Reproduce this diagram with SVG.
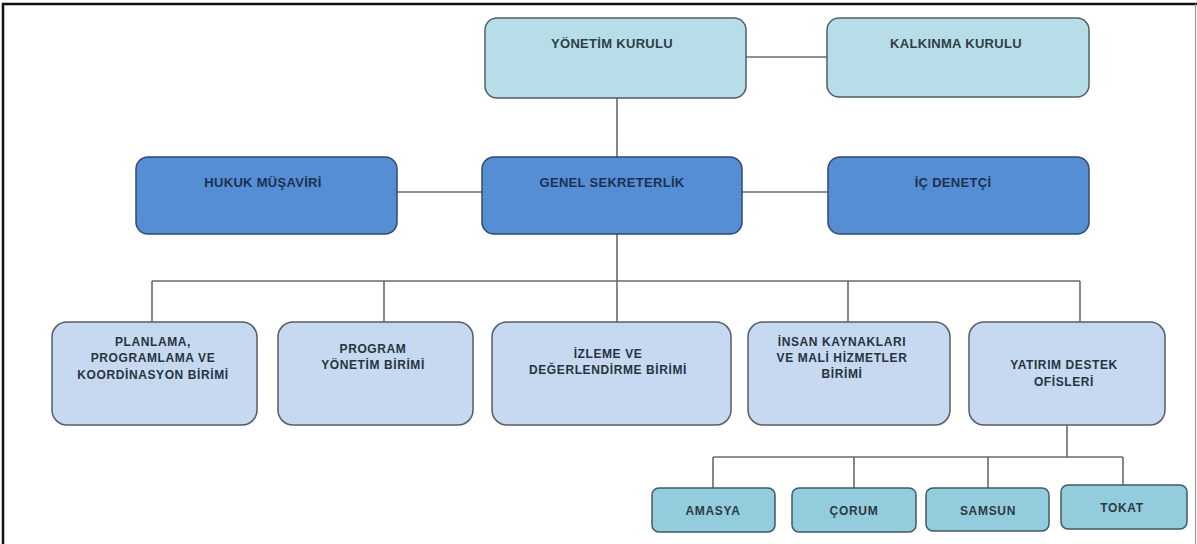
<svg xmlns="http://www.w3.org/2000/svg" width="1197" height="544" viewBox="0 0 1197 544">
<style>
.frame{stroke:#111;stroke-width:2.5;fill:none}
.frameR{stroke:#9a9a9a;stroke-width:1.2;fill:none}
.top{fill:#b7dde8;stroke:#4f5f66;stroke-width:1.5}
.mid{fill:#558ed5;stroke:#2f4a6a;stroke-width:1.5}
.low{fill:#c6d9f1;stroke:#555d66;stroke-width:1.5}
.ofs{fill:#93cddd;stroke:#3f5a62;stroke-width:1.5}
.conn line{stroke:#6a6a6a;stroke-width:1.6}
text{font-family:"Liberation Sans",Arial,sans-serif;font-weight:bold;text-anchor:middle}
.tt{font-size:13px;fill:#2f3d47;letter-spacing:0.3px}
.mt{font-size:13px;fill:#1c3150;letter-spacing:0.3px}
.lt{font-size:12px;fill:#27343f;letter-spacing:0.6px}
.st{font-size:12px;fill:#2c3a42;letter-spacing:0.7px}
</style>
<rect width="1197" height="544" fill="#ffffff"/>
<line class="frame" x1="2" y1="4" x2="1197" y2="4"/>
<line class="frame" x1="3" y1="3" x2="3" y2="544"/>
<line class="frameR" x1="1195.5" y1="4" x2="1195.5" y2="544"/>

<g id="connectors" class="conn">
<line x1="746" y1="57" x2="827" y2="57"/>
<line x1="617" y1="98" x2="617" y2="157"/>
<line x1="397" y1="192" x2="482" y2="192"/>
<line x1="742" y1="192" x2="828" y2="192"/>
<line x1="617" y1="234" x2="617" y2="322"/>
<line x1="152" y1="281" x2="1080" y2="281"/>
<line x1="152" y1="281" x2="152" y2="322"/>
<line x1="384" y1="281" x2="384" y2="322"/>
<line x1="848" y1="281" x2="848" y2="322"/>
<line x1="1080" y1="281" x2="1080" y2="322"/>
<line x1="1067" y1="425" x2="1067" y2="457"/>
<line x1="713" y1="457" x2="1123" y2="457"/>
<line x1="713" y1="457" x2="713" y2="488"/>
<line x1="854" y1="457" x2="854" y2="488"/>
<line x1="988" y1="457" x2="988" y2="488"/>
<line x1="1123" y1="457" x2="1123" y2="485"/>
</g>

<g id="yonetim-kurulu">
<rect class="top" x="485" y="18" width="261" height="80" rx="12"/>
<text class="tt" x="612" y="48">YÖNETİM KURULU</text>
</g>
<g id="kalkinma-kurulu">
<rect class="top" x="827" y="18" width="262" height="79" rx="12"/>
<text class="tt" x="956" y="48">KALKINMA KURULU</text>
</g>

<g id="hukuk-musaviri">
<rect class="mid" x="136" y="157" width="261" height="77" rx="12"/>
<text class="mt" x="263" y="187">HUKUK MÜŞAVİRİ</text>
</g>
<g id="genel-sekreterlik">
<rect class="mid" x="482" y="157" width="260" height="77" rx="12"/>
<text class="mt" x="612" y="187">GENEL SEKRETERLİK</text>
</g>
<g id="ic-denetci">
<rect class="mid" x="828" y="157" width="261" height="77" rx="12"/>
<text class="mt" x="953" y="187">İÇ DENETÇİ</text>
</g>

<g id="planlama">
<rect class="low" x="52" y="322" width="205" height="103" rx="15"/>
<text class="lt" x="153" y="346">PLANLAMA,</text>
<text class="lt" x="153" y="362">PROGRAMLAMA  VE</text>
<text class="lt" x="153" y="379">KOORDİNASYON BİRİMİ</text>
</g>
<g id="program">
<rect class="low" x="278" y="322" width="195" height="103" rx="15"/>
<text class="lt" x="373" y="353">PROGRAM</text>
<text class="lt" x="373" y="369">YÖNETİM BİRİMİ</text>
</g>
<g id="izleme">
<rect class="low" x="492" y="322" width="239" height="103" rx="15"/>
<text class="lt" x="608" y="358">İZLEME VE</text>
<text class="lt" x="608" y="374">DEĞERLENDİRME  BİRİMİ</text>
</g>
<g id="insan-kaynaklari">
<rect class="low" x="748" y="322" width="202" height="103" rx="15"/>
<text class="lt" x="842" y="346">İNSAN KAYNAKLARI</text>
<text class="lt" x="842" y="362">VE MALİ HİZMETLER</text>
<text class="lt" x="842" y="378">BİRİMİ</text>
</g>
<g id="yatirim-destek">
<rect class="low" x="969" y="322" width="196" height="103" rx="15"/>
<text class="lt" x="1064" y="369">YATIRIM DESTEK</text>
<text class="lt" x="1064" y="386">OFİSLERİ</text>
</g>

<g id="amasya">
<rect class="ofs" x="652" y="488" width="123" height="44" rx="7"/>
<text class="st" x="713" y="515">AMASYA</text>
</g>
<g id="corum">
<rect class="ofs" x="792" y="488" width="124" height="44" rx="7"/>
<text class="st" x="854" y="515">ÇORUM</text>
</g>
<g id="samsun">
<rect class="ofs" x="926" y="488" width="123" height="43" rx="7"/>
<text class="st" x="988" y="515">SAMSUN</text>
</g>
<g id="tokat">
<rect class="ofs" x="1061" y="485" width="126" height="44" rx="7"/>
<text class="st" x="1122" y="512">TOKAT</text>
</g>
</svg>
